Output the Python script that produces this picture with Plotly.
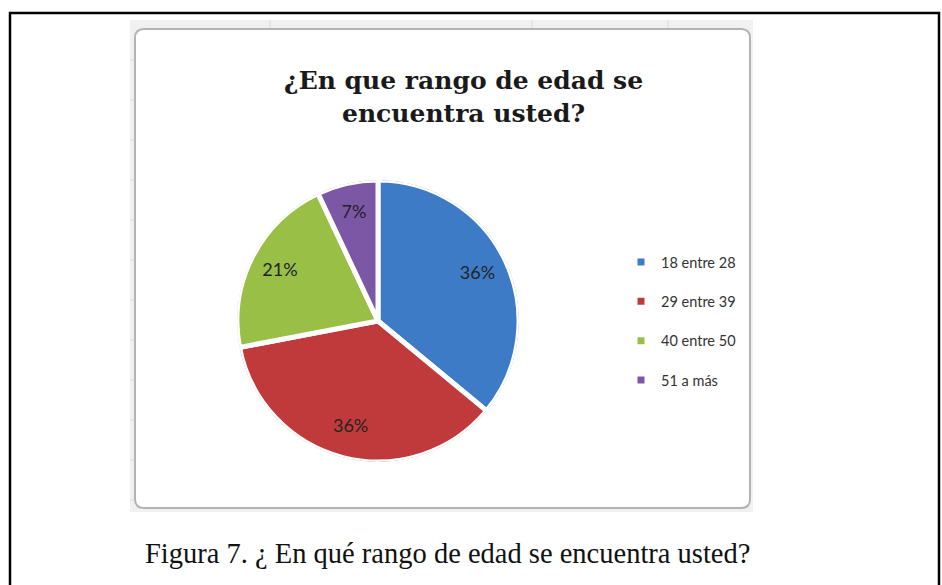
import plotly.graph_objects as go

W, H = 942, 585

# ---- data ----
categories = ["18 entre 28", "29 entre 39", "40 entre 50", "51 a más"]
values = [36, 36, 21, 7]
colors = ["#3e7bc6", "#c03a3b", "#99bf47", "#7b57a6"]

title_text = "¿En que rango de edad se<br>encuentra usted?"
caption_text = "Figura 7. ¿ En qué rango de edad se encuentra usted?"


def fx(x):
    return x / W


def fy(y):
    return 1 - y / H


# pie geometry (pixels)
cx, cy, half = 378, 321, 141
domain = dict(x=[fx(cx - half), fx(cx + half)], y=[fy(cy + half), fy(cy - half)])

total = sum(values)
spans = [v / total * 360 for v in values]
mids, acc = [], 0
for s in spans:
    mids.append(acc + s / 2)
    acc += s
pct_text = [f"{round(v / total * 100)}%" for v in values]

fig = go.Figure()
# pie slices drawn as polar wedges (clockwise from 12 o'clock)
for cat, s, m, col in zip(categories, spans, mids, colors):
    fig.add_trace(go.Barpolar(
        r=[1], theta=[m], width=[s], name=cat, legendgroup=cat,
        marker=dict(color=col, line=dict(color="white", width=5)),
        hoverinfo="skip",
    ))

# percentage labels along each slice's mid-angle (Excel style)
fig.add_trace(go.Scatterpolar(
    r=[0.78] * len(values),
    theta=mids,
    mode="text",
    text=pct_text,
    textfont=dict(family="Lato", size=18, color="#232323"),
    hoverinfo="skip",
    showlegend=False,
))


def rounded_rect(x0, y0, x1, y1, r):
    pts = [
        f"M {fx(x0 + r)} {fy(y0)}",
        f"L {fx(x1 - r)} {fy(y0)}",
        f"Q {fx(x1)} {fy(y0)} {fx(x1)} {fy(y0 + r)}",
        f"L {fx(x1)} {fy(y1 - r)}",
        f"Q {fx(x1)} {fy(y1)} {fx(x1 - r)} {fy(y1)}",
        f"L {fx(x0 + r)} {fy(y1)}",
        f"Q {fx(x0)} {fy(y1)} {fx(x0)} {fy(y1 - r)}",
        f"L {fx(x0)} {fy(y0 + r)}",
        f"Q {fx(x0)} {fy(y0)} {fx(x0 + r)} {fy(y0)}",
        "Z",
    ]
    return " ".join(pts)


shapes = [
    # document box
    dict(type="rect", xref="paper", yref="paper",
         x0=fx(10), x1=fx(939), y0=fy(595), y1=fy(13),
         line=dict(color="black", width=2.5), fillcolor="rgba(0,0,0,0)", layer="below"),
    # embedded screenshot background (spreadsheet)
    dict(type="rect", xref="paper", yref="paper",
         x0=fx(130), x1=fx(753), y0=fy(512), y1=fy(20),
         line=dict(width=0), fillcolor="#f1f1f1", layer="below"),
    # chart area
    dict(type="path", xref="paper", yref="paper",
         path=rounded_rect(135, 29, 750, 508, 9),
         line=dict(color="#b3b3b3", width=2), fillcolor="white", layer="below"),
]
# faint spreadsheet cell lines in header row / left gutter
for gx in [270, 532, 668]:
    shapes.append(dict(type="line", xref="paper", yref="paper",
                       x0=fx(gx), x1=fx(gx), y0=fy(28), y1=fy(20),
                       line=dict(color="#d8d8d8", width=1), layer="below"))
for gy in [60, 100, 140, 180, 220, 260, 300, 340, 380, 420, 460, 500]:
    shapes.append(dict(type="line", xref="paper", yref="paper",
                       x0=fx(130), x1=fx(134), y0=fy(gy), y1=fy(gy),
                       line=dict(color="#d8d8d8", width=1), layer="below"))

annotations = [
    dict(text=title_text, x=fx(463), y=fy(97), xref="paper", yref="paper",
         xanchor="center", yanchor="middle", showarrow=False,
         font=dict(family="DejaVu Serif", size=25, color="#1a1a1a", weight="bold")),
    dict(text=caption_text, x=fx(447), y=fy(553), xref="paper", yref="paper",
         xanchor="center", yanchor="middle", showarrow=False,
         font=dict(family="Liberation Serif", size=28.5, color="#111")),
]

fig.update_layout(
    width=W, height=H,
    margin=dict(l=0, r=0, t=0, b=0),
    paper_bgcolor="white",
    plot_bgcolor="white",
    shapes=shapes,
    annotations=annotations,
    hovermode=False,
    polar=dict(
        domain=domain,
        bgcolor="rgba(0,0,0,0)",
        bargap=0,
        radialaxis=dict(visible=False, range=[0, 1]),
        angularaxis=dict(visible=False, rotation=90, direction="clockwise"),
    ),
    showlegend=True,
    legend=dict(
        x=fx(621), y=fy(246), xanchor="left", yanchor="top",
        font=dict(family="Lato", size=14.5, color="#333"),
        bgcolor="rgba(0,0,0,0)",
        tracegroupgap=17.5,
        traceorder="grouped",
        itemclick=False, itemdoubleclick=False,
    ),
)

fig.write_html("out.html")
